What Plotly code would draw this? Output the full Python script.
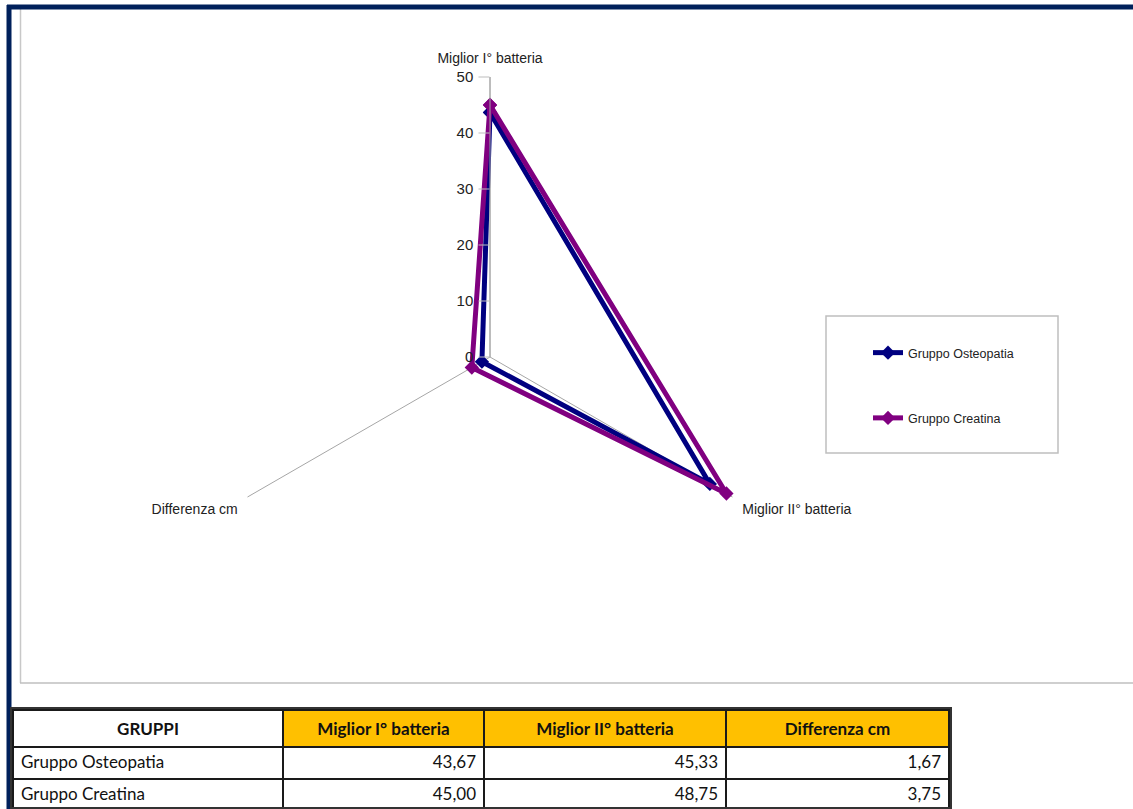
import plotly.graph_objects as go

# Categories (radar spokes / table columns)
categories = ["Miglior I° batteria", "Miglior II° batteria", "Differenza cm"]
table_header = ["GRUPPI", "Miglior I° batteria", "Miglior II° batteria", "Differenza cm"]

# Series values
groups = ["Gruppo Osteopatia", "Gruppo Creatina"]
osteopatia = [43.67, 45.33, 1.67]
creatina = [45.00, 48.75, 3.75]

# Radial axis ticks
radial_ticks = [0, 10, 20, 30, 40, 50]

colors = ["#000080", "#800080"]

W, H = 1133, 809


def px(x):
    return x / W


def py(y):
    return 1 - y / H


def fmt(v):
    return f"{v:.2f}".replace(".", ",")


fig = go.Figure()

chart_font = "Liberation Sans, Arial, sans-serif"

for i, (name, vals) in enumerate(zip(groups, [osteopatia, creatina])):
    fig.add_trace(go.Scatterpolar(
        r=vals + vals[:1],
        theta=categories + categories[:1],
        mode="lines+markers",
        name=name,
        legendgroup=name,
        line=dict(color=colors[i], width=5),
        marker=dict(symbol="diamond", size=11, color=colors[i]),
        cliponaxis=False,
    ))

# Data table under the chart
table_cols = [groups,
              [fmt(osteopatia[0]), fmt(creatina[0])],
              [fmt(osteopatia[1]), fmt(creatina[1])],
              [fmt(osteopatia[2]), fmt(creatina[2])]]

fig.add_trace(go.Table(
    domain=dict(x=[px(13), px(949)], y=[0, py(710)]),
    columnwidth=[270, 201, 242, 223],
    header=dict(
        values=[f"<b>{h}</b>" for h in table_header],
        fill_color=["#FFFFFF", "#FFC000", "#FFC000", "#FFC000"],
        line=dict(color="#1A1A1A", width=1.5),
        align="center",
        font=dict(family="Lato, Open Sans, sans-serif", size=17, color="#111111"),
        height=31,
    ),
    cells=dict(
        values=table_cols,
        fill_color="#FFFFFF",
        line=dict(color="#1A1A1A", width=1.5),
        align=["left", "right", "right", "right"],
        font=dict(family="Lato, Open Sans, sans-serif", size=17, color="#111111"),
        height=32,
    ),
))

R = 280
cx, cy = 490, 357

fig.update_layout(
    width=W,
    height=H,
    margin=dict(l=0, r=0, t=0, b=0),
    paper_bgcolor="white",
    font=dict(family=chart_font, size=13, color="#222222"),
    polar=dict(
        domain=dict(x=[px(cx - R), px(cx + R)], y=[py(cy + R), py(cy - R)]),
        bgcolor="white",
        radialaxis=dict(
            range=[0, 50],
            tickvals=radial_ticks,
            angle=90,
            tickangle=90,
            side="counterclockwise",
            showgrid=False,
            showline=True,
            linecolor="#A6A6A6",
            linewidth=1,
            ticks="outside",
            ticklen=11,
            tickcolor="#BDBDBD",
            tickfont=dict(size=15, color="#222222"),
        ),
        angularaxis=dict(
            rotation=90,
            direction="clockwise",
            showline=False,
            showgrid=True,
            gridcolor="#A6A6A6",
            gridwidth=1,
            ticks="outside",
            ticklen=8,
            tickcolor="rgba(0,0,0,0)",
            tickfont=dict(size=14, color="#222222"),
        ),
    ),
    showlegend=True,
    legend=dict(
        x=px(868), y=py(338), xanchor="left", yanchor="top",
        bgcolor="rgba(0,0,0,0)",
        borderwidth=0,
        tracegroupgap=46,
        font=dict(size=12.5, color="#222222"),
        itemwidth=30,
    ),
    shapes=[
        # legend box
        dict(type="rect", xref="paper", yref="paper",
             x0=px(826), x1=px(1058), y0=py(453), y1=py(316),
             line=dict(color="#BFBFBF", width=1.5), fillcolor="rgba(0,0,0,0)"),
        # chart area border (left and bottom)
        dict(type="line", xref="paper", yref="paper",
             x0=px(20.5), x1=px(20.5), y0=py(9), y1=py(683),
             line=dict(color="#C8C8C8", width=1.5)),
        dict(type="line", xref="paper", yref="paper",
             x0=px(20), x1=1, y0=py(683), y1=py(683),
             line=dict(color="#BFBFBF", width=1.5)),
        # outer navy frame
        dict(type="line", xref="paper", yref="paper",
             x0=px(9), x1=px(9), y0=py(5), y1=0,
             line=dict(color="#00205B", width=5)),
        dict(type="line", xref="paper", yref="paper",
             x0=px(7), x1=1, y0=py(7), y1=py(7),
             line=dict(color="#00205B", width=5)),
        # table outer frame
        dict(type="rect", xref="paper", yref="paper",
             x0=px(11), x1=px(951), y0=py(808), y1=py(708),
             line=dict(color="#333333", width=2), fillcolor="rgba(0,0,0,0)",
             layer="above"),
    ],
)

fig.write_html("out.html")
